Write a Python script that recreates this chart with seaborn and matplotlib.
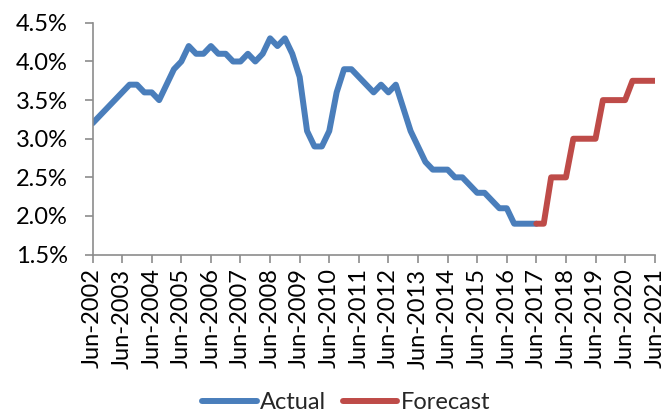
import pandas as pd
import seaborn as sns
import matplotlib.pyplot as plt
from matplotlib.ticker import FuncFormatter

# quarterly values, Jun-2002 .. Jun-2017 (actual) and Jun-2017 .. Jun-2021 (forecast)
actual = [3.2, 3.3, 3.4, 3.5, 3.6, 3.7, 3.7, 3.6, 3.6, 3.5,
          3.7, 3.9, 4.0, 4.2, 4.1, 4.1, 4.2, 4.1, 4.1, 4.0,
          4.0, 4.1, 4.0, 4.1, 4.3, 4.2, 4.3, 4.1, 3.8, 3.1,
          2.9, 2.9, 3.1, 3.6, 3.9, 3.9, 3.8, 3.7, 3.6, 3.7,
          3.6, 3.7, 3.4, 3.1, 2.9, 2.7, 2.6, 2.6, 2.6, 2.5,
          2.5, 2.4, 2.3, 2.3, 2.2, 2.1, 2.1, 1.9, 1.9, 1.9,
          1.9]
forecast = [1.9, 1.9, 2.5, 2.5, 2.5, 3.0, 3.0, 3.0, 3.0, 3.5,
            3.5, 3.5, 3.5, 3.75, 3.75, 3.75, 3.75]
forecast_start = len(actual) - 1
years = list(range(2002, 2022))
tick_labels = ['Jun-%d' % y for y in years]

df = pd.concat([
    pd.DataFrame({'q': range(len(actual)), 'rate': actual, 'series': 'Actual'}),
    pd.DataFrame({'q': range(forecast_start, forecast_start + len(forecast)),
                  'rate': forecast, 'series': 'Forecast'}),
])

sns.set_style('white')
plt.rcParams['font.family'] = ['Lato', 'DejaVu Sans']

fig = plt.figure(figsize=(6.66, 4.16), dpi=100)
ax = fig.add_axes([0.139, 0.388, 0.844, 0.557])
sns.lineplot(data=df, x='q', y='rate', hue='series', ax=ax,
             palette={'Actual': '#4A7EBB', 'Forecast': '#BE4B48'},
             linewidth=4.3, solid_capstyle='round')

ax.set_xlim(0, 76)
ax.set_ylim(1.5, 4.5)
ax.set_yticks([1.5, 2.0, 2.5, 3.0, 3.5, 4.0, 4.5])
ax.yaxis.set_major_formatter(FuncFormatter(lambda v, p: '%.1f%%' % v))
ax.set_xticks([i * 4 for i in range(len(years))])
ax.set_xticklabels(tick_labels, rotation=90)
ax.set_xlabel('')
ax.set_ylabel('')

for s in ['top', 'right']:
    ax.spines[s].set_visible(False)
for s in ['left', 'bottom']:
    ax.spines[s].set_color('#8c8c8c')
    ax.spines[s].set_linewidth(1.2)
ax.tick_params(axis='both', which='major', length=6, width=1.2, color='#8c8c8c',
               direction='out', labelsize=17, labelcolor='black')
ax.tick_params(axis='y', pad=12)
ax.tick_params(axis='x', pad=4)
ax.tick_params(left=True, bottom=True)

ax.legend(loc='lower center', bbox_to_anchor=(0.52, -0.015), bbox_transform=fig.transFigure,
          ncol=2, frameon=False, fontsize=17, handlelength=2.3, handletextpad=0.15,
          columnspacing=0.7, borderaxespad=0)

plt.savefig('out.png', dpi=100)
